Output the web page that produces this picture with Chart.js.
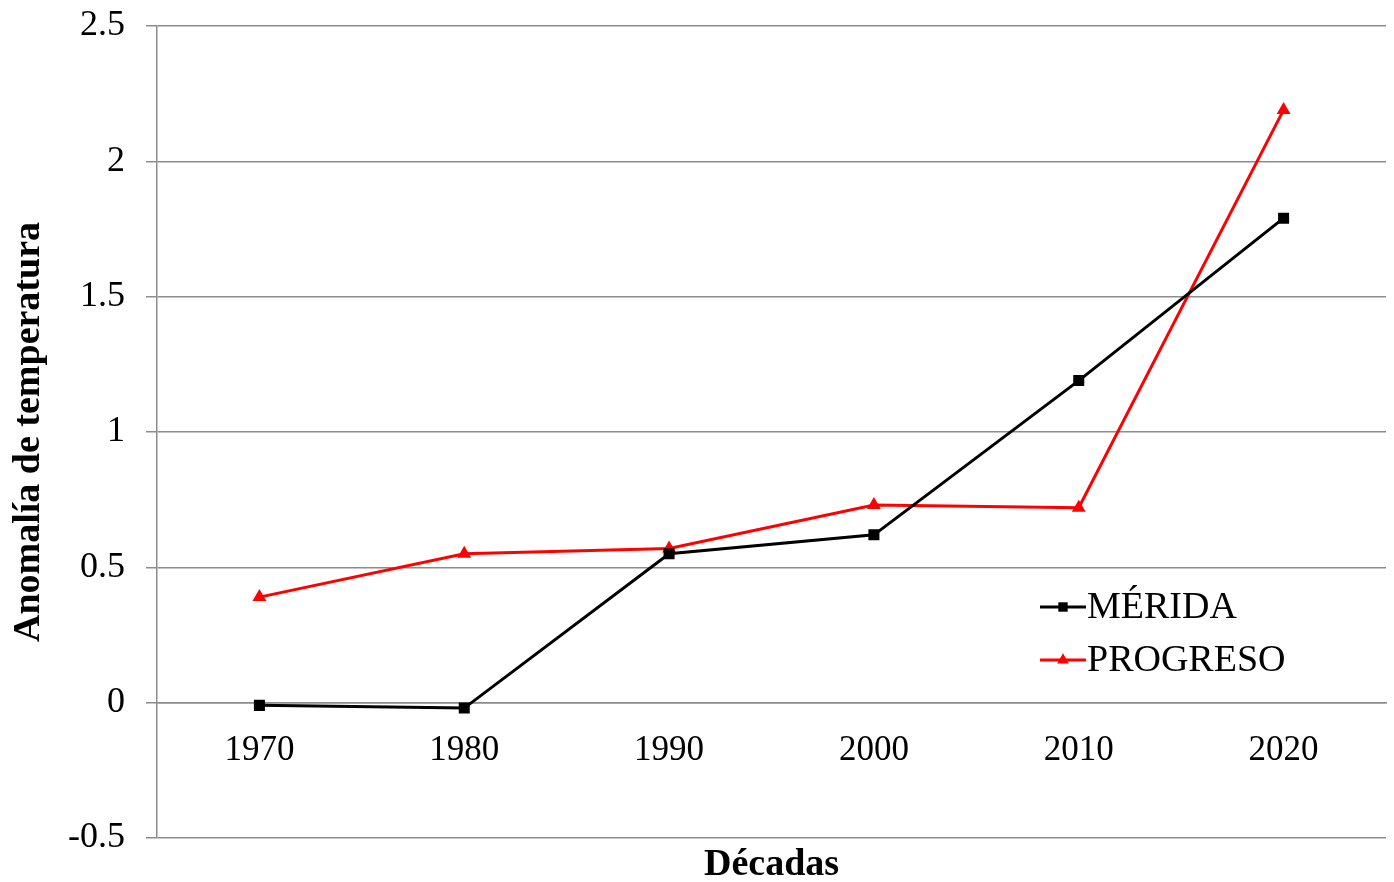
<!DOCTYPE html>
<html>
<head>
<meta charset="utf-8">
<script src="https://cdn.jsdelivr.net/npm/chart.js@4"></script>
<style>
  html, body { margin: 0; padding: 0; background: #fff; overflow: hidden; }
  #wrap { width: 1394px; height: 882px; }
</style>
</head>
<body>
<div id="wrap"><canvas id="chart"></canvas></div>
<script>
// ── Data ─────────────────────────────
const decades = ["1970", "1980", "1990", "2000", "2010", "2020"];
const merida = [-0.01, -0.02, 0.55, 0.62, 1.19, 1.79];
const progreso = [0.39, 0.55, 0.57, 0.73, 0.72, 2.19];
const seriesNames = ["MÉRIDA", "PROGRESO"];
const yMin = -0.5, yMax = 2.5, yStep = 0.5;

const FONT = "'Liberation Serif', 'Times New Roman', serif";
const GRID = "#8c8c8c";

// label overflow would otherwise shrink the plot area
const noScalePadding = (scale) => {
  scale.paddingTop = 0;
  scale.paddingBottom = 0;
  scale.paddingLeft = 0;
  scale.paddingRight = 0;
};

// Legend drawn inside the plot, lower right
const insideLegend = {
  id: "insideLegend",
  afterDraw(chart) {
    const { ctx } = chart;
    const x0 = 1040, lineLen = 46, rowY = [607, 660];
    chart.data.datasets.forEach((ds, i) => {
      const y = rowY[i];
      ctx.save();
      ctx.strokeStyle = ds.borderColor;
      ctx.lineWidth = 3;
      ctx.beginPath();
      ctx.moveTo(x0, y);
      ctx.lineTo(x0 + lineLen, y);
      ctx.stroke();
      ctx.fillStyle = ds.pointBackgroundColor;
      ctx.strokeStyle = ds.pointBorderColor;
      Chart.helpers.drawPoint(ctx, {
        pointStyle: ds.pointStyle,
        radius: ds.pointRadius * 0.85,
        borderWidth: 0,
        rotation: 0,
      }, x0 + lineLen / 2, y);
      ctx.fillStyle = "#000";
      ctx.font = "38px " + FONT;
      ctx.textBaseline = "middle";
      ctx.textAlign = "left";
      ctx.fillText(ds.label, x0 + lineLen + 1, y + 1);
      ctx.restore();
    });
  },
};

new Chart(document.getElementById("chart"), {
  type: "line",
  data: {
    labels: decades,
    datasets: [
      {
        label: seriesNames[0],
        data: merida,
        borderColor: "#000000",
        backgroundColor: "#000000",
        pointBackgroundColor: "#000000",
        pointBorderColor: "#000000",
        pointStyle: "rect",
        pointRadius: 7.8,
        pointBorderWidth: 0,
        borderWidth: 3,
        tension: 0,
      },
      {
        label: seriesNames[1],
        data: progreso,
        borderColor: "#ff0000",
        backgroundColor: "#ff0000",
        pointBackgroundColor: "#ff0000",
        pointBorderColor: "#ff0000",
        pointStyle: "triangle",
        pointRadius: 8,
        pointBorderWidth: 0,
        borderWidth: 3,
        tension: 0,
      },
    ],
  },
  options: {
    responsive: true,
    maintainAspectRatio: false,
    animation: false,
    events: [],
    layout: { padding: { top: 26, right: -4, left: 0, bottom: 0 } },
    plugins: {
      legend: { display: false },
      tooltip: { enabled: false },
    },
    scales: {
      x: {
        type: "category",
        position: { y: 0 },
        offset: true,
        grid: { display: false },
        border: { display: true, color: GRID, width: 1.5 },
        ticks: {
          color: "#000",
          padding: 19,
          maxRotation: 0,
          font: { family: FONT, size: 35 },
        },
        afterFit: noScalePadding,
      },
      xTitle: {
        type: "category",
        position: "bottom",
        labels: decades,
        grid: { display: false },
        border: { display: false },
        ticks: { display: false },
        title: {
          display: true,
          text: "Décadas",
          color: "#000",
          padding: { top: 0, bottom: 0 },
          font: { family: FONT, size: 38, weight: "bold", lineHeight: 0.9 },
        },
        afterFit: (scale) => { scale.height = 44; noScalePadding(scale); },
      },
      y: {
        min: yMin,
        max: yMax,
        ticks: {
          stepSize: yStep,
          color: "#000",
          padding: 21,
          font: { family: FONT, size: 36 },
          callback: (v) => String(Math.round(v * 10) / 10),
        },
        grid: { color: GRID, lineWidth: 1.5, tickLength: 11 },
        border: { display: true, color: GRID, width: 1.5 },
        title: {
          display: true,
          text: "Anomalía de temperatura",
          color: "#000",
          padding: { top: 6, bottom: 0 },
          font: { family: FONT, size: 38, weight: "bold" },
        },
        afterFit: (scale) => { scale.width = 157; noScalePadding(scale); },
      },
    },
  },
  plugins: [insideLegend],
});
</script>
</body>
</html>
